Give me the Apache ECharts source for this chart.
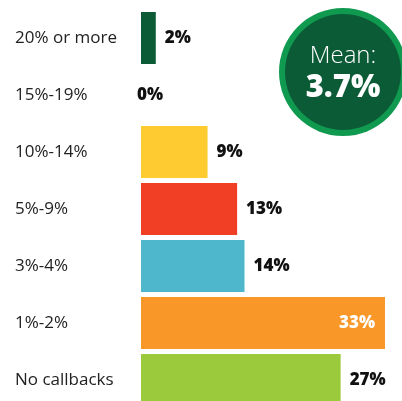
<!DOCTYPE html>
<html><head><meta charset="utf-8">
<script src="https://cdn.jsdelivr.net/npm/echarts@6/dist/echarts.min.js"></script>
<style>html,body{margin:0;padding:0;background:#fff}#c{width:402px;height:401px}</style>
</head><body><div id="c"></div>
<script>
const categories = ['20% or more','15%-19%','10%-14%','5%-9%','3%-4%','1%-2%','No callbacks'];
const values = [2, 0, 9, 13, 14, 33, 27];
const barColors = ['#0b5c36','#0b5c36','#fecc30','#f03f24','#4eb7cc','#f99729','#9bca3d'];
const meanLabel = 'Mean:';
const meanValue = '3.7%';

const chart = echarts.init(document.getElementById('c'), null, {renderer:'canvas'});
const data = values.map((v,i) => {
  const item = {value: v, itemStyle: {color: barColors[i]}};
  if (v === 0) item.label = {distance: -4};
  if (v === Math.max(...values)) item.label = {position: 'insideRight', color: '#fff', distance: 10};
  return item;
});
chart.setOption({
  animation: false,
  grid: {left: 141, top: 9.5, width: 244, height: 399, containLabel: false, outerBoundsMode: 'none'},
  xAxis: {type: 'value', min: 0, max: 33, show: false},
  yAxis: {
    type: 'category', data: categories, inverse: true,
    axisLine: {show: false}, axisTick: {show: false},
    axisLabel: {align: 'left', margin: 126, fontFamily: 'Open Sans', fontSize: 17, color: '#222'}
  },
  series: [{
    type: 'bar', data: data, barWidth: 52,
    label: {show: true, position: 'right', distance: 9, formatter: '{c}%',
      fontFamily: 'Open Sans', fontWeight: 800, fontSize: 17, color: '#111'}
  }],
  graphic: [
    {type: 'circle', shape: {cx: 343, cy: 72, r: 64}, style: {fill: '#0f9a50'}},
    {type: 'circle', shape: {cx: 343, cy: 72, r: 58}, style: {fill: '#0b5c36'}},
    {type: 'text', x: 343, y: 56, style: {text: meanLabel, fill: '#fff', font: '300 24px "Open Sans"', textAlign: 'center', textVerticalAlign: 'middle'}},
    {type: 'text', x: 343, y: 88, style: {text: meanValue, fill: '#fff', font: '800 31px "Open Sans"', textAlign: 'center', textVerticalAlign: 'middle'}}
  ]
});
</script></body></html>
